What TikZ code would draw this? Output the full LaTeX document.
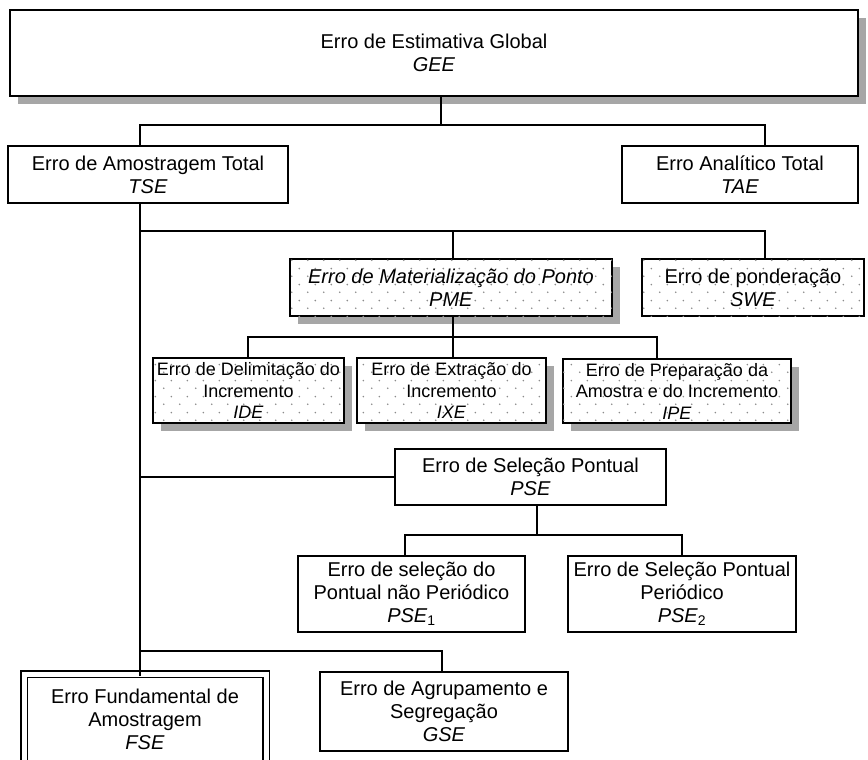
\documentclass[tikz,border=0pt]{standalone}
\usepackage{fontspec}
\setmainfont{Liberation Sans}
\usetikzlibrary{shadows,patterns}

% light grey dot texture for the point-materialisation group
\pgfdeclarepatternformonly{dotgrid}{\pgfpointorigin}{\pgfqpoint{16pt}{16pt}}{\pgfqpoint{16pt}{16pt}}{%
  \pgfpathcircle{\pgfqpoint{4pt}{4pt}}{0.95pt}%
  \pgfpathcircle{\pgfqpoint{12pt}{12pt}}{0.95pt}%
  \pgfusepath{fill}}

\tikzset{
  box/.style={draw, line width=2.1pt, fill=white, inner sep=0pt, align=center,
    font=\fontsize{20}{23}\selectfont},
  smalltext/.style={font=\fontsize{18}{21.5}\selectfont},
  shade box/.style={drop shadow={shadow xshift=8pt, shadow yshift=-8pt, fill=black!35, opacity=1}},
  dotted box/.style={postaction={pattern=dotgrid, pattern color=black!45}},
  fundbox/.style={draw, double, double distance=5pt, line width=1.3pt, inner sep=0pt,
    align=center, font=\fontsize{20}{23}\selectfont},
  link/.style={line width=2.1pt}
}

\begin{document}
\begin{tikzpicture}[x=1pt, y=-1pt]
\useasboundingbox (0,0) rectangle (868,760);

% ---- boxes ----
\node[box, shade box, minimum width=848, minimum height=86] (GEE) at (434,53)
  {Erro de Estimativa Global\\ \textit{GEE}};
\node[box, minimum width=280, minimum height=57] (TSE) at (148,174.5)
  {Erro de Amostragem Total\\ \textit{TSE}};
\node[box, minimum width=236, minimum height=57] (TAE) at (740,174.5)
  {Erro Analítico Total\\ \textit{TAE}};

\node[box, shade box, dotted box, minimum width=322, minimum height=57] (PME) at (451,287.5)
  {\textit{Erro de Materialização do Ponto}\\ \textit{PME}};
\node[box, dotted box, minimum width=222, minimum height=57] (SWE) at (753,287.5)
  {Erro de ponderação\\ \textit{SWE}};

\node[box, smalltext, shade box, dotted box, minimum width=191, minimum height=65] (IDE) at (248.5,390.5)
  {Erro de Delimitação do\\ Incremento\\ \textit{IDE}};
\node[box, smalltext, shade box, dotted box, minimum width=189, minimum height=65] (IXE) at (451.5,390.5)
  {Erro de Extração do\\ Incremento\\ \textit{IXE}};
\node[box, smalltext, shade box, dotted box, minimum width=228, minimum height=64] (IPE) at (677,391)
  {Erro de Preparação da\\ Amostra e do Incremento\\ \textit{IPE}};

\node[box, minimum width=271, minimum height=56] (PSE) at (530.5,477)
  {Erro de Seleção Pontual\\ \textit{PSE}};
\node[box, minimum width=227, minimum height=76] (PSE1) at (411.5,594)
  {Erro de seleção do\\ Pontual não Periódico\\ \textit{PSE}\textsubscript{1}};
\node[box, minimum width=228, minimum height=76] (PSE2) at (682,594)
  {Erro de Seleção Pontual\\ Periódico\\ \textit{PSE}\textsubscript{2}};

\node[fundbox, minimum width=242, minimum height=90] (FSE) at (145,719)
  {Erro Fundamental de\\ Amostragem\\ \textit{FSE}};
\node[box, minimum width=248, minimum height=79] (GSE) at (444,711.5)
  {Erro de Agrupamento e\\ Segregação\\ \textit{GSE}};

% ---- junction points of the connectors ----
\coordinate (sp) at (140,0);      % main spine below TSE
\coordinate (aM) at (441,125);
\coordinate (aR) at (765,125);
\coordinate (bP) at (453,231);
\coordinate (bR) at (765,231);
\coordinate (cL) at (248,337);
\coordinate (cR) at (657,337);
\coordinate (eM) at (537,535);
\coordinate (eL) at (405,535);
\coordinate (eR) at (682,535);
\coordinate (fR) at (442,651);

% ---- connectors ----
\draw[link] (GEE.south -| aM) -- (aM);
\draw[link] (TSE.north -| sp) |- (aR) -- (TAE.north -| aR);

\draw[link] (TSE.south -| sp) -- ([yshift=-3pt]FSE.north -| sp);

\draw[link] (sp |- bR) -- (bR) -- (SWE.north -| bR);
\draw[link] (PME.north -| bP) -- (bP);

\draw[link] (PME.south -| bP) -- (IXE.north -| bP);
\draw[link] (IDE.north -| cL) -- (cL) -- (cR) -- (IPE.north -| cR);

\draw[link] (sp |- PSE.west) -- (PSE.west);
\draw[link] (PSE.south -| eM) -- (eM);
\draw[link] (PSE1.north -| eL) -- (eL) -- (eR) -- (PSE2.north -| eR);

\draw[link] (sp |- fR) -- (fR) -- (GSE.north -| fR);
\end{tikzpicture}
\end{document}
